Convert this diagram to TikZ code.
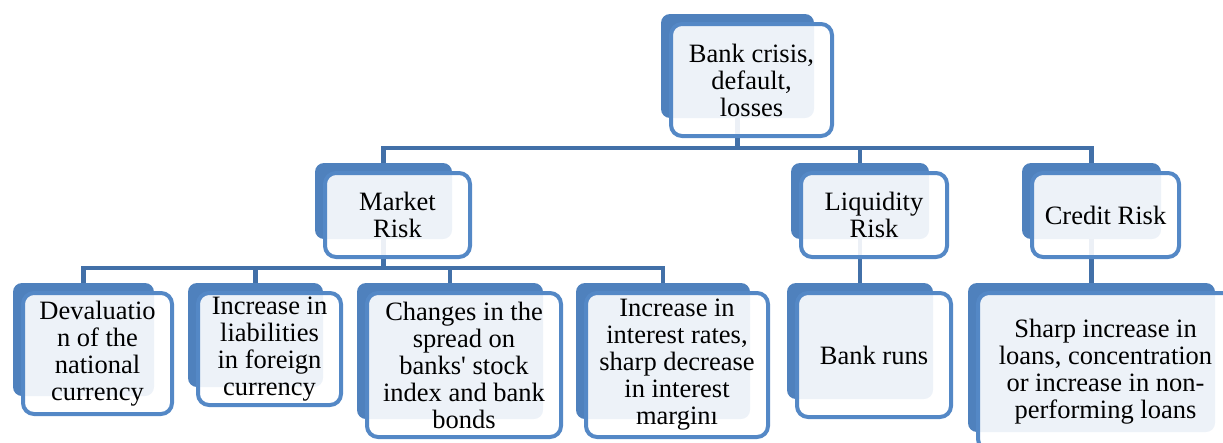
\documentclass[tikz,border=0pt]{standalone}
\usepackage{fontspec}
\setmainfont{Liberation Serif}
\usetikzlibrary{positioning}

\definecolor{shadowblue}{RGB}{79,129,189}
\definecolor{edgeblue}{RGB}{84,136,198}
\definecolor{linkblue}{RGB}{66,112,168}

\begin{document}
\begin{tikzpicture}[
  x=1pt, y=-1pt,
  back/.style={rectangle, rounded corners=9pt, fill=shadowblue, inner sep=0pt},
  front/.style={rectangle, rounded corners=11pt, draw=edgeblue, line width=4pt, fill=white, fill opacity=0.9, text opacity=1, inner sep=0pt, align=center, font=\fontsize{26.5}{27}\selectfont},
  link/.style={draw=linkblue, line width=4.5pt}
]
\useasboundingbox (0,0) rectangle (1223,442);

% shadow boxes
\node[back, minimum width=153pt, minimum height=104pt] (bankS) at (737.5,66) {};
\node[back, minimum width=137pt, minimum height=76pt] (marketS) at (383.5,201) {};
\node[back, minimum width=138pt, minimum height=76pt] (liquidityS) at (860,201) {};
\node[back, minimum width=139pt, minimum height=76pt] (creditS) at (1091.5,201) {};
\node[back, minimum width=141pt, minimum height=113pt] (devalS) at (83.5,339.5) {};
\node[back, minimum width=135pt, minimum height=104pt] (liabS) at (255.5,335) {};
\node[back, minimum width=186pt, minimum height=136pt] (spreadS) at (450,351) {};
\node[back, minimum width=174pt, minimum height=136pt] (ratesS) at (663,351) {};
\node[back, minimum width=146pt, minimum height=116pt] (runsS) at (860,341) {};
\node[back, minimum width=247pt, minimum height=149pt] (loansS) at (1091.5,357.5) {};

% connectors
\coordinate (topbus) at (0,148);
\coordinate (subbus) at (0,268);
\draw[link] (marketS.north) |- (creditS.north |- topbus) -- (creditS.north);
\draw[link] (bankS.south) -- (bankS.south |- topbus);
\draw[link] (liquidityS.north) -- (liquidityS.north |- topbus);
\draw[link] (devalS.north) |- (ratesS.north |- subbus) -- (ratesS.north);
\draw[link] (marketS.south) -- (marketS.south |- subbus);
\draw[link] (liabS.north) -- (liabS.north |- subbus);
\draw[link] (spreadS.north) -- (spreadS.north |- subbus);
\draw[link] (liquidityS.south) -- (runsS.north);
\draw[link] (creditS.south) -- (loansS.north);

% text boxes
\node[front, minimum width=161pt, minimum height=112pt] (bank) at (751.5,80) {Bank crisis,\\default,\\losses};
\node[front, minimum width=145pt, minimum height=84pt] (market) at (397.5,215) {Market\\Risk};
\node[front, minimum width=146pt, minimum height=84pt] (liquidity) at (874,215) {Liquidity\\Risk};
\node[front, minimum width=147pt, minimum height=84pt] (credit) at (1105.5,215) {Credit Risk};
\node[front, minimum width=149pt, minimum height=121pt] (deval) at (97.5,353.5) {Devaluatio\\n of the\\national\\currency};
\node[front, minimum width=143pt, minimum height=112pt] (liab) at (269.5,349) {Increase in\\liabilities\\in foreign\\currency};
\node[front, minimum width=194pt, minimum height=144pt] (spread) at (464,365) {Changes in the\\spread on\\banks\textquotesingle\ stock\\index and bank\\bonds};
\node[front, minimum width=182pt, minimum height=144pt] (rates) at (677,365) {Increase in\\interest rates,\\sharp decrease\\in interest\\marginı};
\node[front, minimum width=154pt, minimum height=124pt] (runs) at (874,355) {Bank runs};
\node[front, minimum width=255pt, minimum height=157pt] (loans) at (1105.5,371.5) {Sharp increase in\\loans, concentration\\or increase in non-\\performing loans};

\end{tikzpicture}
\end{document}
